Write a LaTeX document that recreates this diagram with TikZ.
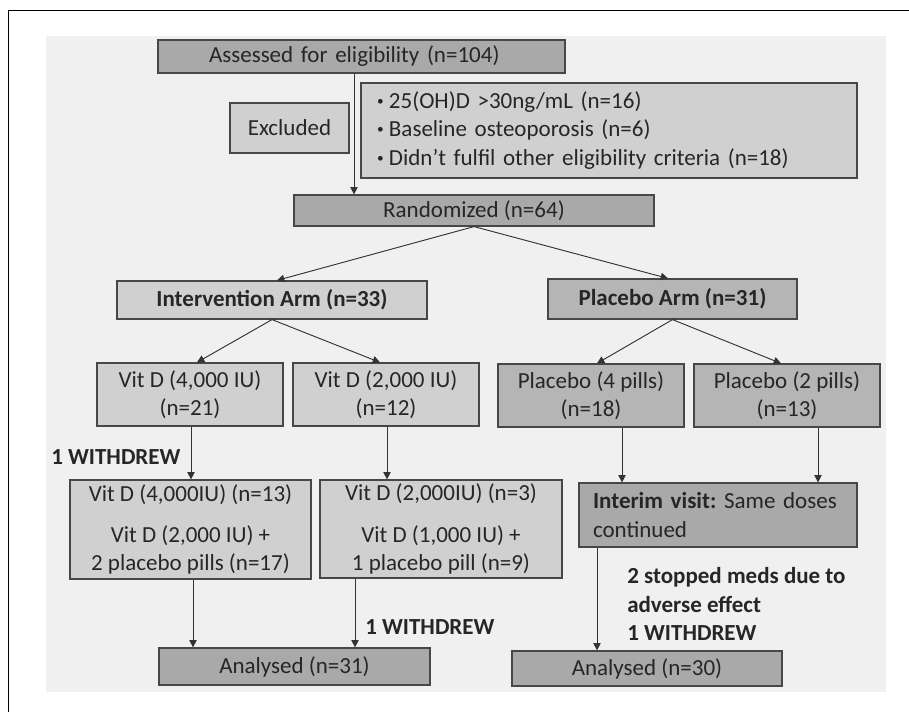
\documentclass[tikz,border=0pt]{standalone}
\usepackage{fontspec}
\setmainfont{Carlito}
\usetikzlibrary{arrows.meta}
\definecolor{clight}{HTML}{D0D0D0}
\definecolor{cmid}{HTML}{B5B5B5}
\definecolor{cdark}{HTML}{A9A9A9}
\definecolor{cpanel}{HTML}{F0F0F0}
\definecolor{ctext}{HTML}{262626}
\newcommand\fsz{\fontsize{17.25}{21.2}\selectfont\frenchspacing}
\newcommand\bul{\raisebox{2.2pt}{\fontsize{10}{10}\selectfont\textbullet}\hspace{4pt}}
\tikzset{
 wh/.style 2 args={minimum width=#1*0.75pt, minimum height=#2*0.75pt},
 box/.style={draw=black!72, line width=0.9pt, inner sep=0pt, align=center, font=\fsz, text=ctext},
 lt/.style={box, fill=clight},
 md/.style={box, fill=cmid},
 dk/.style={box, fill=cdark},
 arr/.style={draw=black!80, line width=0.7pt, -{Triangle[length=5.5pt,width=5.5pt]}},
 lbl/.style={font=\fsz\bfseries, text=ctext, inner sep=0pt, align=left},
}
\begin{document}
\begin{tikzpicture}[x=0.75pt,y=-0.75pt]
\useasboundingbox (0,0) rectangle (909,712);
\fill[cpanel] (46,36) rectangle (886,692);
\draw[line width=1.2pt] (8.5,712) -- (8.5,10.5) -- (909,10.5);

\node[dk, wh={407}{33}, align=left, text width=305*0.75pt] (assess) at (361.5,56.5) {Assessed for eligibility (n=104)};
\node[lt, wh={119}{50}] (excl) at (289.5,128) {Excluded};
\node[lt, wh={496}{95}, align=left, text width=464*0.75pt] (crit) at (609,130.5) {\bul 25(OH)D >30ng/mL (n=16)\\\bul Baseline osteoporosis (n=6)\\\bul Didn’t fulfil other eligibility criteria (n=18)};
\node[dk, wh={360}{31}] (rand) at (474,210.5) {Randomized (n=64)};
\node[lt, wh={310}{38}, font=\fsz\bfseries] (intarm) at (272,300) {Intervention Arm (n=33)};
\node[md, wh={249}{40}, font=\fsz\bfseries] (plaarm) at (672.5,299) {Placebo Arm (n=31)};
\node[lt, wh={186}{63}] (vd4) at (190,394.5) {Vit D (4,000 IU)\\(n=21)};
\node[lt, wh={186}{63}] (vd2) at (386,394.5) {Vit D (2,000 IU)\\(n=12)};
\node[md, wh={186}{63}] (pl4) at (591,395.5) {Placebo (4 pills)\\(n=18)};
\node[md, wh={186}{63}] (pl2) at (787,395.5) {Placebo (2 pills)\\(n=13)};
\node[lt, wh={241}{99}] (vd4b) at (190.5,529.5) {Vit D (4,000IU) (n=13)\\[9.75pt]Vit D (2,000 IU) +\\2 placebo pills (n=17)};
\node[lt, wh={242}{98}] (vd2b) at (441,529) {Vit D (2,000IU) (n=3)\\[9.75pt]Vit D (1,000 IU) +\\1 placebo pill (n=9)};
\node[dk, wh={278}{64}, align=left, text width=250*0.75pt] (interim) at (718,515) {\textbf{Interim visit:} Same doses\\continued};
\node[dk, wh={271}{37}] (an31) at (294.5,666.5) {Analysed (n=31)};
\node[dk, wh={270}{35}] (an30) at (647,668.5) {Analysed (n=30)};

\node[lbl, anchor=west] (w1) at (51,457) {1 WITHDREW};
\node[lbl, anchor=west] (w2) at (365,627) {1 WITHDREW};
\node[lbl, anchor=west] (stop) at (627,604) {2 stopped meds due to\\adverse effect\\1 WITHDREW};

\coordinate (xa) at (354,0);
\coordinate (xi1) at (277,0);
\coordinate (xp1) at (668,0);
\coordinate (xv4) at (197,0);
\coordinate (xv2) at (380,0);
\coordinate (xq4) at (597,0);
\coordinate (xq2) at (781,0);
\coordinate (xb) at (191,0);
\coordinate (xc) at (387,0);
\coordinate (xd) at (622,0);
\coordinate (xe) at (818,0);
\coordinate (xf) at (193,0);
\coordinate (xg) at (355,0);
\coordinate (xh) at (597,0);

\draw[arr] (assess.south -| xa) -- (rand.north -| xa);
\draw[arr] (rand.south) -- (intarm.north -| xi1);
\draw[arr] (rand.south) -- (plaarm.north -| xp1);
\draw[arr] (intarm.south) -- (vd4.north -| xv4);
\draw[arr] (intarm.south) -- (vd2.north -| xv2);
\draw[arr] (plaarm.south) -- (pl4.north -| xq4);
\draw[arr] (plaarm.south) -- (pl2.north -| xq2);
\draw[arr] (vd4.south -| xb) -- (vd4b.north -| xb);
\draw[arr] (vd2.south -| xc) -- (vd2b.north -| xc);
\draw[arr] (pl4.south -| xd) -- (interim.north -| xd);
\draw[arr] (pl2.south -| xe) -- (interim.north -| xe);
\draw[arr] (vd4b.south -| xf) -- (an31.north -| xf);
\draw[arr] (vd2b.south -| xg) -- (an31.north -| xg);
\draw[arr] (interim.south -| xh) -- (an30.north -| xh);
\end{tikzpicture}
\end{document}
